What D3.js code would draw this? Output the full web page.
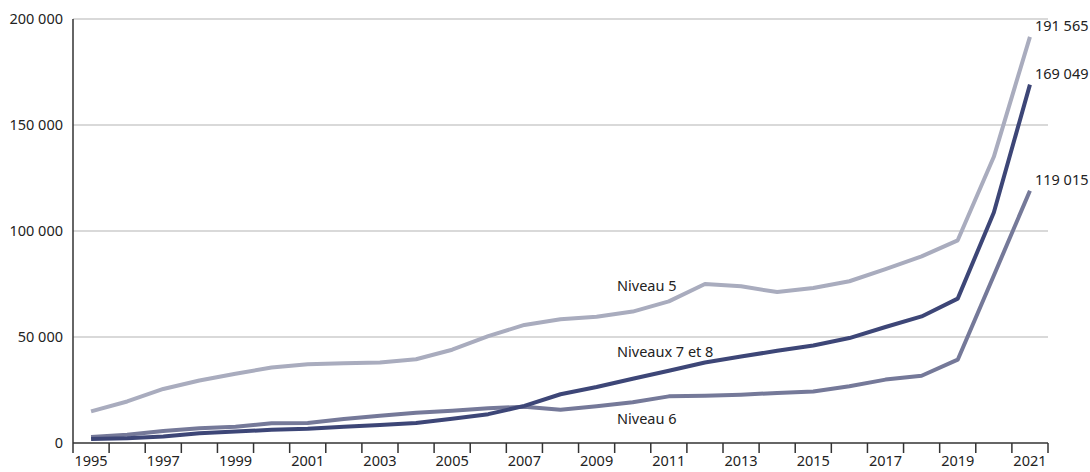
<!DOCTYPE html>
<html><head><meta charset="utf-8">
<script src="https://cdn.jsdelivr.net/npm/d3@7"></script>
<style>body{margin:0;background:#fff}svg{display:block;font-family:"Noto Sans",Lato,sans-serif}</style>
</head><body>
<svg id="c" width="1090" height="472"></svg>
<script>
const years = d3.range(1995, 2022);
const niveau5 = [14900,19600,25500,29500,32700,35600,37200,37600,38000,39500,44000,50400,55700,58400,59600,62000,66800,75000,73900,71200,73100,76300,82000,88000,95600,135000,191565];
const niveau6 = [2800,3900,5700,7000,7700,9300,9400,11300,12900,14300,15200,16400,17100,15700,17300,19200,22000,22300,22800,23600,24300,26800,29900,31700,39300,79000,119015];
const niveaux78 = [1900,2200,3100,4600,5400,6200,6700,7700,8500,9400,11400,13600,17500,23000,26400,30300,34100,38000,40800,43500,46000,49500,54700,59700,68100,108700,169049];
const yTicks = [0,50000,100000,150000,200000];
const seriesNames = ["Niveau 5","Niveaux 7 et 8","Niveau 6"];

const svg = d3.select("#c");
const x = d3.scaleBand().domain(years).range([73,1048]);
const y = d3.scaleLinear().domain([0,200000]).range([443,19]);
const cx = d => x(d) + x.bandwidth()/2;
const fmt = v => d3.format(",")(v).replace(/,/g," ");
const FS = 14.5;

// grid
svg.append("g").selectAll("line").data(yTicks.slice(1)).join("line")
  .attr("x1",73).attr("x2",1048).attr("y1",d=>y(d)).attr("y2",d=>y(d))
  .attr("stroke","#b3b3b3").attr("stroke-width",1.2);
svg.append("g").selectAll("text").data(yTicks).join("text")
  .attr("x",63).attr("y",d=>y(d)).attr("dy","0.35em").attr("text-anchor","end")
  .attr("font-size",FS).attr("fill","#222").text(fmt);

// axes lines
svg.append("line").attr("x1",73).attr("x2",73).attr("y1",y(200000)).attr("y2",y(0)).attr("stroke","#333").attr("stroke-width",1.5);
svg.append("line").attr("x1",73).attr("x2",1048).attr("y1",y(0)).attr("y2",y(0)).attr("stroke","#333").attr("stroke-width",1.5);
const bounds = years.map(d=>x(d)).concat([x(2021)+x.bandwidth()]);
svg.append("g").selectAll("line").data(bounds).join("line")
  .attr("x1",d=>d).attr("x2",d=>d).attr("y1",y(0)).attr("y2",y(0)+10)
  .attr("stroke","#333").attr("stroke-width",1.5);
svg.append("g").selectAll("text").data(years.filter(d=>(d-1995)%2===0)).join("text")
  .attr("x",cx).attr("y",466).attr("text-anchor","middle")
  .attr("font-size",FS).attr("fill","#222").text(d=>d);

const line = d3.line().x((d,i)=>cx(years[i])).y(d=>y(d));
const series = [
  {name:"Niveau 5", vals:niveau5, color:"#a9acbe"},
  {name:"Niveau 6", vals:niveau6, color:"#757999"},
  {name:"Niveaux 7 et 8", vals:niveaux78, color:"#3d4677"}
];
svg.append("g").selectAll("path").data(series).join("path")
  .attr("d",d=>line(d.vals)).attr("fill","none").attr("stroke",d=>d.color)
  .attr("stroke-width",4).attr("stroke-linejoin","round");

// end labels
svg.append("g").selectAll("text").data(series).join("text")
  .attr("x",cx(2021)+5).attr("y",d=>y(d.vals[d.vals.length-1])-11).attr("dy","0.35em")
  .attr("font-size",FS).attr("fill","#222").text(d=>fmt(d.vals[d.vals.length-1]));

// series labels
const lab = [{t:seriesNames[0],v:74000},{t:seriesNames[1],v:43000},{t:seriesNames[2],v:11500}];
svg.append("g").selectAll("text").data(lab).join("text")
  .attr("x",617).attr("y",d=>y(d.v)).attr("dy","0.35em")
  .attr("font-size",FS).attr("fill","#222").text(d=>d.t);
</script>
</body></html>
